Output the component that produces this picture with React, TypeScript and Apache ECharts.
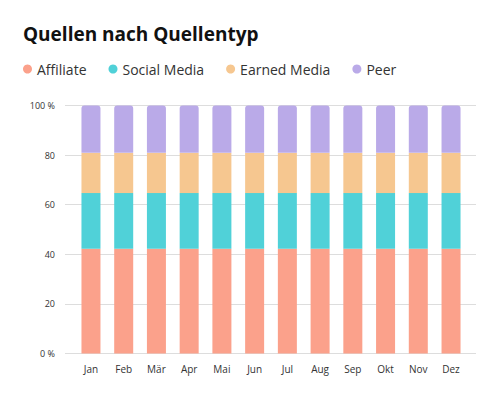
import React, { useEffect, useRef } from "react";
import * as echarts from "echarts";

const months = ["Jan", "Feb", "Mär", "Apr", "Mai", "Jun", "Jul", "Aug", "Sep", "Okt", "Nov", "Dez"];
const seriesNames = ["Affiliate", "Social Media", "Earned Media", "Peer"];
const affiliate = [42.2, 42.2, 42.2, 42.2, 42.2, 42.2, 42.2, 42.2, 42.2, 42.2, 42.2, 42.2];
const socialMedia = [22.5, 22.5, 22.5, 22.5, 22.5, 22.5, 22.5, 22.5, 22.5, 22.5, 22.5, 22.5];
const earnedMedia = [16.2, 16.2, 16.2, 16.2, 16.2, 16.2, 16.2, 16.2, 16.2, 16.2, 16.2, 16.2];
const peer = [19.1, 19.1, 19.1, 19.1, 19.1, 19.1, 19.1, 19.1, 19.1, 19.1, 19.1, 19.1];
const colors = ["#FBA18B", "#50D1D8", "#F6C790", "#BAAAE8"];

export default function App() {
  const ref = useRef<HTMLDivElement>(null);
  useEffect(() => {
    if (!ref.current) return;
    const chart = echarts.init(ref.current, null, { renderer: "svg" });
    const values = [affiliate, socialMedia, earnedMedia, peer];
    const font = "'Open Sans', 'Noto Sans', sans-serif";
    chart.setOption({
      animation: false,
      textStyle: { fontFamily: font },
      title: {
        text: "Quellen nach Quellentyp",
        left: 18,
        top: 19,
        textStyle: { fontSize: 19, fontWeight: "bold", color: "#111", fontFamily: font },
      },
      legend: {
        left: 18,
        top: 57,
        icon: "circle",
        itemWidth: 9,
        itemHeight: 9,
        itemGap: 22,
        data: seriesNames,
        textStyle: { fontSize: 14, color: "#333", fontFamily: font },
      },
      grid: [
        { left: 65, right: 24, top: 105.5, bottom: 46.5 },
        { left: 74.6, right: 32.6, top: 105.5, bottom: 46.5 },
      ],
      xAxis: [
        { gridIndex: 0, type: "value", show: false, min: 0, max: 1 },
        {
          gridIndex: 1,
          type: "category",
          data: months,
          axisLine: { show: false },
          axisTick: { show: false },
          axisLabel: { color: "#333", fontSize: 10, margin: 10, fontFamily: font },
        },
      ],
      yAxis: [
        {
          gridIndex: 0,
          type: "value",
          min: 0,
          max: 100,
          interval: 20,
          axisLine: { show: false },
          axisTick: { show: false },
          splitLine: { lineStyle: { color: "#dddddd", width: 1 } },
          axisLabel: {
            color: "#333",
            fontSize: 9,
            margin: 10,
            fontFamily: font,
            formatter: (v: number) => (v === 0 || v === 100 ? v + " %" : String(v)),
          },
        },
        { gridIndex: 1, type: "value", min: 0, max: 100, show: false },
      ],
      series: values.map((data, i) => ({
        name: seriesNames[i],
        type: "bar",
        stack: "total",
        xAxisIndex: 1,
        yAxisIndex: 1,
        barWidth: 19,
        data,
        itemStyle: {
          color: colors[i],
          borderRadius: i === values.length - 1 ? [3, 3, 0, 0] : 0,
        },
      })),
      color: colors,
    });
    return () => chart.dispose();
  }, []);
  return (
    <div
      ref={ref}
      style={{ position: "absolute", left: 0, top: 0, width: 500, height: 400 }}
    />
  );
}
